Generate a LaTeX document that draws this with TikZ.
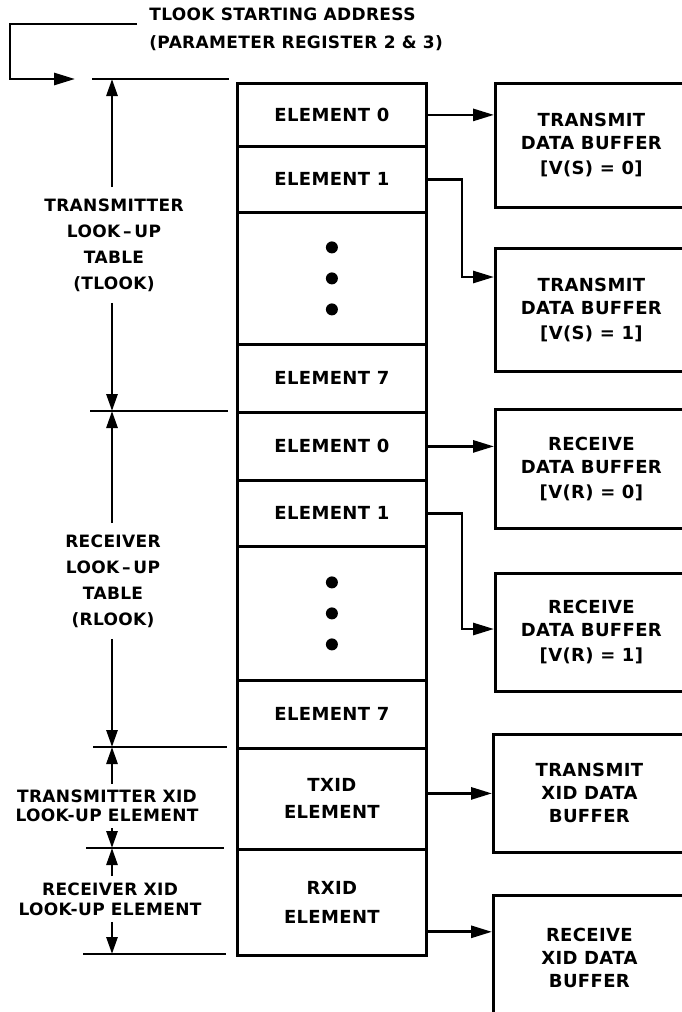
\documentclass[tikz,border=0pt]{standalone}
\usepackage{fontspec}
\setmainfont{DejaVu Sans}[LetterSpace=2]
\usepackage{tikz}
\usetikzlibrary{positioning,arrows.meta,calc}

\begin{document}
\begin{tikzpicture}[x=1pt, y=-1pt, line width=2.8pt,
  font=\fontsize{18}{23}\selectfont\bfseries,
  cell/.style={draw, minimum width=189pt, minimum height=#1, inner sep=0pt, align=center, anchor=north west},
  buf/.style={draw, minimum width=192pt, minimum height=#1, inner sep=0pt, align=center, anchor=north west},
  feed/.style={-{Triangle[length=21pt,width=12pt]}},
  dim/.style={-{Triangle[length=17pt,width=11pt]}},
  side/.style={align=center, inner xsep=0pt, inner ysep=5pt}]
\useasboundingbox (0,0) rectangle (682,1012);
\fill[white] (0,0) rectangle (682,1012);
\clip (0,0) rectangle (682,1012);
% start address
\node[align=left, anchor=north west, inner sep=0pt, font=\fontsize{17}{23}\selectfont\bfseries] (addr) at (148,6) {TLOOK STARTING ADDRESS\\[5pt](PARAMETER REGISTER 2 \& 3)};
\coordinate (src) at (137,24);
\coordinate (tip) at (75,79);
\draw[feed] (src) -- ++(-127,0) |- (tip);
% look-up table
\node[cell=63pt] (t0) at (236,82) {ELEMENT 0};
\node[cell=66pt] (t1) at (236,145) {ELEMENT 1};
\node[cell=132pt] (t2) at (236,211) {};
\node[cell=68pt] (t3) at (236,343) {ELEMENT 7};
\node[cell=68pt] (r0) at (236,411) {ELEMENT 0};
\node[cell=66pt] (r1) at (236,479) {ELEMENT 1};
\node[cell=134pt] (r2) at (236,545) {};
\node[cell=68pt] (r3) at (236,679) {ELEMENT 7};
\node[cell=101pt] (tx) at (236,747) {TXID\\[4pt]ELEMENT};
\node[cell=106pt] (rx) at (236,848) {RXID\\[6pt]ELEMENT};
\foreach \n in {t2,r2} \foreach \d in {-31,0,31} \fill ($(\n.center)+(0,\d)$) circle (6pt);
% buffers
\node[buf=124pt] (b0) at (494,82) {TRANSMIT\\DATA BUFFER\\[2pt]{[}V(S) = 0{]}};
\node[buf=123pt] (b1) at (494,247) {TRANSMIT\\DATA BUFFER\\[2pt]{[}V(S) = 1{]}};
\node[buf=119pt] (b2) at (494,408) {RECEIVE\\DATA BUFFER\\[2pt]{[}V(R) = 0{]}};
\node[buf=118pt] (b3) at (494,572) {RECEIVE\\DATA BUFFER\\[2pt]{[}V(R) = 1{]}};
\node[buf=118pt] (b4) at (492,733) {TRANSMIT\\XID DATA\\BUFFER};
\node[buf=126pt] (b5) at (492,894) {RECEIVE\\XID DATA\\BUFFER};
% pointers
\coordinate (k1) at (462,277);
\coordinate (k2) at (462,629);
\draw[feed] (t0.east) -- (t0.east -| b0.west);
\draw[feed] (t1.east) -| (k1) -- (k1 -| b1.west);
\draw[feed] (r0.east) -- (r0.east -| b2.west);
\draw[feed] (r1.east) -| (k2) -- (k2 -| b3.west);
\draw[feed] (b4.west -| tx.east) -- (b4.west);
\draw[feed] ($(rx.south east)+(0,-25)$) coordinate (k3) -- (k3 -| b5.west);
% dimension ticks
\foreach \y/\a/\b in {79/92/229, 411/90/228, 747/93/227, 848/86/224, 954/83/226}
  \draw (\a,\y) -- (\b,\y);
\coordinate (d0) at (112,79);
\coordinate (d1) at (112,411);
\coordinate (d2) at (112,747);
\coordinate (d3) at (112,848);
\coordinate (d4) at (112,954);
% side labels
\node[side, font=\fontsize{17}{26}\selectfont\bfseries, inner ysep=10pt] (tlk) at (114,245) {TRANSMITTER\\LOOK\,\textendash\,UP\\TABLE\\(TLOOK)};
\node[side, font=\fontsize{17}{26}\selectfont\bfseries, inner ysep=10pt] (rlk) at (113,581) {RECEIVER\\LOOK\,\textendash\,UP\\TABLE\\(RLOOK)};
\node[side, font=\fontsize{17}{19}\selectfont\bfseries] (txl) at (107,806) {TRANSMITTER XID\\LOOK-UP ELEMENT};
\node[side, font=\fontsize{17}{20}\selectfont\bfseries] (rxl) at (110,899) {RECEIVER XID\\LOOK-UP ELEMENT};
\draw[dim] (d0 |- tlk.north) -- (d0);
\draw[dim] (d1 |- tlk.south) -- (d1);
\draw[dim] (d1 |- rlk.north) -- (d1);
\draw[dim] (d2 |- rlk.south) -- (d2);
\draw[dim] (d2 |- txl.north) -- (d2);
\draw[dim] (d3 |- txl.south) -- (d3);
\draw[dim] (d3 |- rxl.north) -- (d3);
\draw[dim] (d4 |- rxl.south) -- (d4);
\end{tikzpicture}
\end{document}
